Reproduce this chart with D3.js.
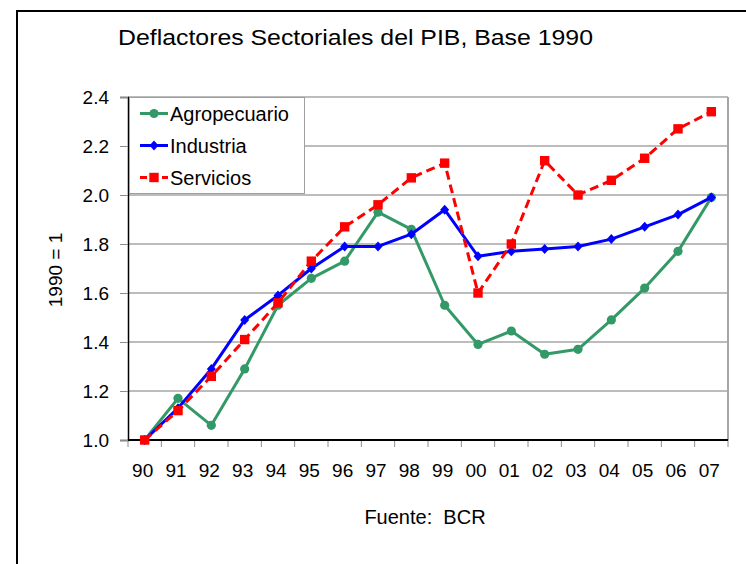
<!DOCTYPE html>
<html><head><meta charset="utf-8">
<script src="https://cdn.jsdelivr.net/npm/d3@7"></script>
<style>html,body{margin:0;padding:0;background:#fff;overflow:hidden}svg{display:block;font-family:"Liberation Sans",Arial,sans-serif}</style>
</head><body>
<svg id="c" width="746" height="564"></svg>
<script>
const years = ["90","91","92","93","94","95","96","97","98","99","00","01","02","03","04","05","06","07"];
const agropecuario = [1.00,1.17,1.06,1.29,1.55,1.66,1.73,1.93,1.86,1.55,1.39,1.445,1.35,1.37,1.49,1.62,1.77,1.99];
const industria   = [1.00,1.13,1.29,1.49,1.59,1.70,1.79,1.79,1.84,1.94,1.75,1.77,1.78,1.79,1.82,1.87,1.92,1.99];
const servicios   = [1.00,1.12,1.26,1.41,1.56,1.73,1.87,1.96,2.07,2.13,1.60,1.80,2.14,2.00,2.06,2.15,2.27,2.34];
const yTicks = [1.0,1.2,1.4,1.6,1.8,2.0,2.2,2.4];
const seriesNames = ["Agropecuario","Industria","Servicios"];

const svg = d3.select("#c");
const L=128,R=728,T=97,B=440;
const x = d3.scalePoint().domain(years).range([L,R]).padding(0.5);
const y = d3.scaleLinear().domain([1.0,2.4]).range([B,T]);

// outer frame
svg.append("rect").attr("x",17).attr("y",11).attr("width",800).attr("height",700)
  .attr("fill","none").attr("stroke","#000").attr("stroke-width",2);

// title
svg.append("text").attr("x",118).attr("y",45).attr("font-size",22)
  .attr("textLength",475).attr("lengthAdjust","spacingAndGlyphs")
  .text("Deflactores Sectoriales del PIB, Base 1990");

// gridlines
svg.append("g").selectAll("line").data(yTicks.filter(d=>d>1.0)).join("line")
  .attr("x1",L).attr("x2",R).attr("y1",d=>y(d)).attr("y2",d=>y(d))
  .attr("stroke","#a6a6a6").attr("stroke-width",1.3);
// right border
svg.append("line").attr("x1",R).attr("x2",R).attr("y1",T).attr("y2",B)
  .attr("stroke","#a6a6a6").attr("stroke-width",2);

// y axis
const yAxis = d3.axisLeft(y).tickValues(yTicks).tickFormat(d3.format(".1f")).tickSize(8).tickPadding(11);
const gy = svg.append("g").attr("transform",`translate(${L},0)`).call(yAxis);
gy.select(".domain").attr("stroke","#000").attr("stroke-width",1.5);
gy.selectAll(".tick line").attr("stroke","#8c8c8c");
gy.selectAll(".tick text").attr("font-size",19).attr("font-family","Liberation Sans, Arial, sans-serif").attr("fill","#000");

// x axis
const xb = d3.scaleBand().domain(years).range([L,R]);
const bounds = years.map(d=>xb(d)).concat([R]);
svg.append("g").selectAll("line").data(bounds).join("line")
  .attr("x1",d=>d).attr("x2",d=>d).attr("y1",B).attr("y2",B+7)
  .attr("stroke","#8c8c8c").attr("stroke-width",1);
svg.append("line").attr("x1",L).attr("x2",R).attr("y1",B).attr("y2",B)
  .attr("stroke","#000").attr("stroke-width",2);
svg.append("g").selectAll("text").data(years).join("text")
  .attr("x",d=>x(d)-2).attr("y",477).attr("text-anchor","middle").attr("font-size",19)
  .text(d=>d);

// y label
svg.append("text").attr("transform","translate(62,270) rotate(-90)")
  .attr("text-anchor","middle").attr("font-size",19).text("1990 = 1");

// footer
svg.append("text").attr("x",425).attr("y",524).attr("text-anchor","middle")
  .attr("font-size",20).attr("xml:space","preserve").style("white-space","pre").text("Fuente:  BCR");

// series
const colors = {Agropecuario:"#339966", Industria:"#0000ff", Servicios:"#ff0000"};
const dataMap = {Agropecuario:agropecuario, Industria:industria, Servicios:servicios};
const line = d3.line().x((d,i)=>x(years[i])).y(d=>y(d));

function marker(g, name, cx, cy){
  const c = colors[name];
  if(name==="Agropecuario") g.append("circle").attr("cx",cx).attr("cy",cy).attr("r",4.6).attr("fill",c);
  else if(name==="Industria") g.append("path").attr("d",`M${cx},${cy-5}L${cx+4.5},${cy}L${cx},${cy+5}L${cx-4.5},${cy}Z`).attr("fill",c);
  else g.append("rect").attr("x",cx-4.7).attr("y",cy-4.7).attr("width",9.4).attr("height",9.4).attr("fill",c);
}

["Agropecuario","Industria","Servicios"].forEach(name=>{
  const g = svg.append("g");
  const p = g.append("path").datum(dataMap[name]).attr("d",line).attr("fill","none")
    .attr("stroke",colors[name]).attr("stroke-width",3).attr("stroke-linejoin","round");
  if(name==="Servicios") p.attr("stroke-dasharray","9,5");
  dataMap[name].forEach((v,i)=>marker(g,name,x(years[i]),y(v)));
});

// legend
const lg = svg.append("g");
lg.append("rect").attr("x",129.5).attr("y",97.5).attr("width",175).attr("height",96)
  .attr("fill","#fff").attr("stroke","#a0a0a0").attr("stroke-width",1);
seriesNames.forEach((name,i)=>{
  const cy = 113.5 + i*32;
  const l = lg.append("line").attr("x1",140).attr("x2",168).attr("y1",cy).attr("y2",cy)
    .attr("stroke",colors[name]).attr("stroke-width",3);
  if(name==="Servicios") l.attr("stroke-dasharray","7,4");
  marker(lg,name,154,cy);
  lg.append("text").attr("x",170).attr("y",cy+7).attr("font-size",20).text(name);
});
</script>
</body></html>
